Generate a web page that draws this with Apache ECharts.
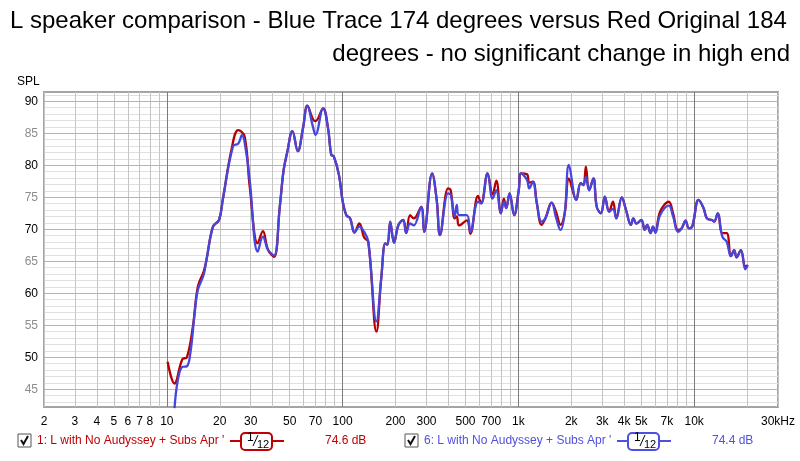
<!DOCTYPE html>
<html><head><meta charset="utf-8">
<script src="https://cdn.jsdelivr.net/npm/echarts@6/dist/echarts.min.js"></script>
<style>html,body{margin:0;padding:0;background:#fff}#c{width:800px;height:461px}</style>
</head><body><div id="c"></div>
<script>
const freqs = [10.1,11.05,11.55,12.25,13.0,13.6,14.06,14.4,15.0,16.2,16.8,18.3,19.8,20.8,23.3,23.8,25.5,26.7,27.7,28.5,29.6,32.9,35.2,37.6,40.7,43.9,46.2,48.3,51.8,55.6,59.5,63.0,67.8,70.1,77.4,82.6,86.2,89.1,95.3,100.2,105,110.4,116.8,124.5,132.6,140,155.8,165.9,175,180,186.5,196,208,221,230,242,254,280,291,323,343,358,398,412,434,446,460,509,533,589,614,668,713,749,795,827,853,891,946,1005,1036,1120,1153,1210,1274,1354,1424,1547,1637,1737,1835,1939,2135,2262,2345,2421,2525,2672,2792,2949,3104,3282,3455,3607,3876,4098,4366,4510,4700,5009,5233,5408,5646,5833,6014,6400,7170,7590,8090,8500,8936,9330,9750,10600,11320,11820,12600,13000,13620,14470,15320,16200,16900,17430,18440,19560,20200];
const redSPL = [49.3,45.9,null,49.7,50.0,null,54.8,null,61.0,63.4,65.2,70.4,71.45,74.6,82.4,null,85.5,null,84.5,null,76.7,67.8,69.7,66.8,65.7,73.5,79.3,81.9,85.35,82.2,85.8,89.3,87.2,86.9,88.9,85.8,81.6,81.4,78.5,74.3,72.2,71.7,69.5,70.9,68.7,68.05,54.0,62.35,67.8,67.6,71.2,67.9,70.7,71.45,69.4,72.2,71.7,73.5,69.6,78.75,74.6,69.1,76.4,76.1,71.7,72.0,70.6,71.4,69.3,75.2,74.05,78.75,75.45,77.6,72.5,74.8,73.3,75.6,72.2,76.1,78.75,78.6,77.3,77.45,74.05,70.7,71.7,74.15,72.75,70.7,72.5,77.9,74.6,77.2,76.9,79.8,76.1,77.95,73.5,72.5,75.1,72.75,74.3,71.7,75.0,73.0,70.7,71.7,70.9,71.45,69.9,70.7,69.4,70.4,69.5,72.75,74.3,72.5,69.9,70.15,71.35,70.15,70.4,74.6,73.3,71.7,71.45,71.2,72.5,69.4,69.4,65.8,66.75,65.6,66.75,64.2,64.4];
const blueSPL = [null,42.0,46.45,48.5,48.6,50.6,null,56.9,60.5,62.9,65.2,70.4,71.45,74.6,null,83.0,83.4,84.7,null,81.4,77.7,66.5,68.85,66.8,65.9,73.5,79.3,81.9,85.35,82.2,85.8,89.3,86.0,84.75,88.9,85.8,81.6,81.4,78.5,74.3,72.2,71.7,69.5,70.4,69.6,68.05,55.6,62.35,67.8,67.6,71.2,67.9,70.7,71.45,69.4,70.9,70.6,73.5,69.6,78.75,74.6,69.1,75.6,75.4,72.0,73.8,72.2,72.2,69.6,74.3,74.05,78.75,74.8,76.1,72.5,74.3,73.3,75.6,72.2,76.1,78.75,77.7,76.4,77.45,74.05,71.2,71.7,74.15,71.85,69.9,72.5,80.05,74.6,77.2,76.9,78.2,76.1,77.95,73.5,72.5,75.1,72.75,73.2,71.7,75.0,73.0,70.7,71.7,70.9,71.45,69.9,70.7,69.4,70.4,69.5,72.2,73.7,72.0,69.6,70.15,71.35,70.15,70.4,74.6,73.3,71.7,71.45,71.2,72.5,68.85,68.05,65.8,66.75,65.6,66.75,63.75,64.4];
const xGridValues = [2,3,4,5,6,7,8,9,10,20,30,40,50,60,70,80,90,100,200,300,400,500,600,700,800,900,1000,2000,3000,4000,5000,6000,7000,8000,9000,10000,20000,30000];
const xLabelValues = [2,3,4,5,6,7,8,10,20,30,50,70,100,200,300,500,700,1000,2000,3000,4000,5000,7000,10000,30000];
const xLabelTexts = ['2','3','4','5','6','7','8','10','20','30','50','70','100','200','300','500','700','1k','2k','3k','4k','5k','7k','10k','30kHz'];
const xDecades = [10,100,1000,10000];
const yLabelValues = [45,50,55,60,65,70,75,80,85,90];
const yMinorValues = [43,44,45,46,47,48,49,50,51,52,53,54,55,56,57,58,59,60,61,62,63,64,65,66,67,68,69,70,71,72,73,74,75,76,77,78,79,80,81,82,83,84,85,86,87,88,89,90,91];
const titleLine1 = 'L speaker comparison - Blue Trace 174 degrees versus Red Original 184';
const titleLine2 = 'degrees - no significant change in high end';
const seriesNames = ["1: L with No Audyssey + Subs Apr '", "6: L with No Audyssey + Subs Apr '"];
const seriesLevels = ['74.6 dB', '74.4 dB'];
const yAxisName = 'SPL';

const FONT = 'Liberation Sans, Arial, sans-serif';
const RED = '#b40000', BLUE = '#4646dc';
const X_MIN = 2, X_MAX = 30000, Y_MIN = 42.23, Y_MAX = 91.45;

function fmtX(v) {
  for (let i = 0; i < xLabelValues.length; i++) {
    if (Math.abs(v - xLabelValues[i]) / xLabelValues[i] < 1e-3) return xLabelTexts[i];
  }
  return '';
}

function legendItem(x0, color, name, level) {
  return [
    {type:'rect', shape:{x:x0, y:434, width:13, height:13}, style:{fill:'#fff', stroke:'#555', lineWidth:1}},
    {type:'polyline', shape:{points:[[x0+3,440],[x0+5.5,444],[x0+10,436]]}, style:{stroke:'#111', lineWidth:2, fill:null}},
    {type:'text', x:x0+19, y:441, style:{text:name, fill:color, font:'12px '+FONT, textVerticalAlign:'middle'}},
    {type:'line', shape:{x1:x0+212, y1:441, x2:x0+266, y2:441}, style:{stroke:color, lineWidth:2}},
    {type:'rect', shape:{x:x0+223, y:433, width:31, height:17, r:4}, style:{fill:'#fff', stroke:color, lineWidth:2}},
    {type:'text', x:x0+229, y:438, style:{text:'1', fill:'#000', font:'12px '+FONT, textVerticalAlign:'middle'}},
    {type:'line', shape:{x1:x0+235, y1:446, x2:x0+240, y2:435}, style:{stroke:'#000', lineWidth:1}},
    {type:'text', x:x0+239, y:445, style:{text:'12', fill:'#000', font:'11px '+FONT, textVerticalAlign:'middle'}},
    {type:'text', x:x0+307, y:441, style:{text:level, fill:color, font:'12px '+FONT, textVerticalAlign:'middle'}}
  ];
}

const chart = echarts.init(document.getElementById('c'), null, {renderer:'canvas'});
chart.setOption({
  animation:false,
  backgroundColor:'#fff',
  textStyle:{fontFamily:FONT},
  title:[
    {text:titleLine1, left:10, top:9, padding:0, textStyle:{fontSize:24, fontWeight:'normal', color:'#000', fontFamily:FONT}},
    {text:titleLine2, right:10, top:42, padding:0, textStyle:{fontSize:24, fontWeight:'normal', color:'#000', fontFamily:FONT}}
  ],
  grid:{left:44, right:22, top:92, bottom:54, show:true, borderColor:'#a4a4a4', borderWidth:2, backgroundColor:'#fff'},
  xAxis:[
    {type:'log', logBase:10, min:X_MIN, max:X_MAX, position:'bottom', z:0,
     axisLine:{show:false}, axisTick:{show:false, customValues:xGridValues},
     axisLabel:{show:true, customValues:xLabelValues, formatter:fmtX, color:'#000', fontSize:12, margin:9, hideOverlap:false, showMinLabel:true, showMaxLabel:true},
     splitLine:{show:true, lineStyle:{color:'#c4c4c4', width:1}}},
    {type:'log', logBase:10, min:X_MIN, max:X_MAX, position:'top', z:1,
     axisLine:{show:false}, axisTick:{show:false, customValues:xDecades},
     axisLabel:{show:false, customValues:xDecades},
     splitLine:{show:true, lineStyle:{color:'#7a7a7a', width:1}}}
  ],
  yAxis:[
    {type:'value', min:Y_MIN, max:Y_MAX, position:'left', z:1,
     axisLine:{show:false}, axisTick:{show:false, customValues:yLabelValues},
     axisLabel:{customValues:yLabelValues, fontSize:12, margin:6, color:function(v){return (Math.round(v)%10===0)?'#000':'#8c8c8c';}},
     splitLine:{show:true, lineStyle:{color:'#b4b4b4', width:1}}},
    {type:'value', min:Y_MIN, max:Y_MAX, position:'right', z:0,
     axisLine:{show:false}, axisTick:{show:false, customValues:yMinorValues},
     axisLabel:{show:false, customValues:yMinorValues},
     splitLine:{show:true, lineStyle:{color:'#e0e0e0', width:1}}}
  ],
  series:[
    {type:'line', name:seriesNames[0], xAxisIndex:0, yAxisIndex:0, data:freqs.map((f,i)=>[f, redSPL[i]]),
     connectNulls:true, smooth:0.4, showSymbol:false, symbol:'none', z:3, clip:true,
     lineStyle:{color:RED, width:2.3}},
    {type:'line', name:seriesNames[1], xAxisIndex:0, yAxisIndex:0, data:freqs.map((f,i)=>[f, blueSPL[i]]),
     connectNulls:true, smooth:0.4, showSymbol:false, symbol:'none', z:4, clip:true,
     lineStyle:{color:BLUE, width:2.3}}
  ],
  graphic:[
    {type:'text', x:17, y:82, style:{text:yAxisName, fill:'#000', font:'12px '+FONT, textVerticalAlign:'middle'}},
    ...legendItem(18, '#c00000', seriesNames[0], seriesLevels[0]),
    ...legendItem(405, '#5050e0', seriesNames[1], seriesLevels[1])
  ]
});
</script></body></html>
